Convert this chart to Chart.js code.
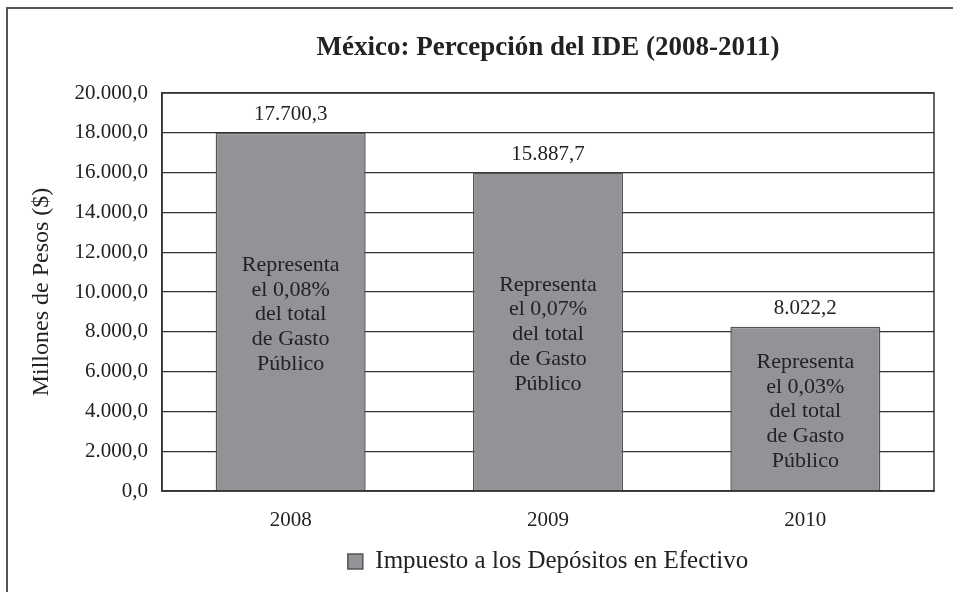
<!DOCTYPE html>
<html>
<head>
<meta charset="utf-8">
<script src="https://cdn.jsdelivr.net/npm/chart.js@4"></script>
<style>
  html, body { margin: 0; padding: 0; background: #fff; }
  #wrap { width: 953px; height: 592px; position: relative; }
</style>
</head>
<body>
<div id="wrap"><canvas id="myChart" width="953" height="592"></canvas></div>
<script>
// datos
const years = ['2008', '2009', '2010'];
const barValues = [18000, 16000, 8250];            // altura de las barras tal como se ven
const printedValues = ['17.700,3', '15.887,7', '8.022,2'];
const shares = ['0,08%', '0,07%', '0,03%'];
const yTicks = [0, 2000, 4000, 6000, 8000, 10000, 12000, 14000, 16000, 18000, 20000];

const serif = '"Liberation Serif", "Times New Roman", serif';
const ink = '#222';

function fmt(v) {
  // 20000 -> 20.000,0
  const s = Math.round(v).toString().replace(/\B(?=(\d{3})+(?!\d))/g, '.');
  return s + ',0';
}

// marco de la figura + borde del área de trazado + textos de las barras
const extras = {
  id: 'extras',
  beforeDraw(chart) {
    const c = chart.ctx;
    c.save();
    c.strokeStyle = '#555';
    c.lineWidth = 2;
    c.beginPath();
    c.moveTo(953, 8);
    c.lineTo(7, 8);
    c.lineTo(7, 592);
    c.stroke();
    c.restore();
  },
  afterDatasetsDraw(chart) {
    const c = chart.ctx;
    const a = chart.chartArea;
    c.save();
    c.strokeStyle = '#333';
    c.lineWidth = 1.5;
    c.strokeRect(a.left, a.top, a.right - a.left, a.bottom - a.top);

    const meta = chart.getDatasetMeta(0);
    c.fillStyle = ink;
    c.textAlign = 'center';
    c.textBaseline = 'middle';
    meta.data.forEach((bar, i) => {
      c.font = '21px ' + serif;
      c.fillText(printedValues[i], bar.x, bar.y - 18);
      const lines = ['Representa', 'el ' + shares[i], 'del total', 'de Gasto', 'Público'];
      const lh = 24.8;
      const mid = (bar.y + bar.base) / 2 + 3;
      c.font = '22px ' + serif;
      lines.forEach((t, k) => {
        c.fillText(t, bar.x, mid + (k - 2) * lh);
      });
    });
    c.restore();
  }
};

const ctx = document.getElementById('myChart');
const myChart = new Chart(ctx, {
  type: 'bar',
  data: {
    labels: years,
    datasets: [{
      label: 'Impuesto a los Depósitos en Efectivo',
      data: barValues,
      backgroundColor: '#929397',
      borderColor: '#555',
      borderWidth: 1.5,
      barPercentage: 0.583,
      categoryPercentage: 1
    }]
  },
  options: {
    responsive: false,
    animation: false,
    layout: { padding: { left: 24, right: 19, top: 0, bottom: 8 } },
    plugins: {
      tooltip: { enabled: false },
      title: {
        display: true,
        fullSize: false,
        text: 'México: Percepción del IDE (2008-2011)',
        color: ink,
        font: { family: serif, size: 27, weight: 'bold' },
        padding: { top: 32, bottom: 28.6 }
      },
      legend: {
        position: 'bottom',
        fullSize: false,
        labels: {
          color: ink,
          font: { family: serif, size: 25 },
          boxWidth: 15,
          boxHeight: 15,
          padding: 8
        }
      }
    },
    scales: {
      x: {
        grid: { display: false, drawTicks: false },
        border: { display: true, color: '#333', width: 1.5 },
        ticks: { color: ink, font: { family: serif, size: 21 }, padding: 17 },
        afterFit(scale) { scale.height = 50; }
      },
      y: {
        min: 0,
        max: 20000,
        afterBuildTicks(scale) { scale.ticks = yTicks.map(v => ({ value: v })); },
        grid: { color: '#333', lineWidth: 1.2, drawTicks: false },
        border: { display: true, color: '#333', width: 1.5 },
        ticks: {
          color: ink,
          font: { family: serif, size: 21 },
          padding: 14,
          callback: v => fmt(v)
        },
        title: {
          display: true,
          text: 'Millones de Pesos ($)',
          color: ink,
          font: { family: serif, size: 24 },
          padding: { top: 3, bottom: 0 }
        },
        afterFit(scale) { scale.width = 138; }
      }
    }
  },
  plugins: [extras]
});
</script>
</body>
</html>
